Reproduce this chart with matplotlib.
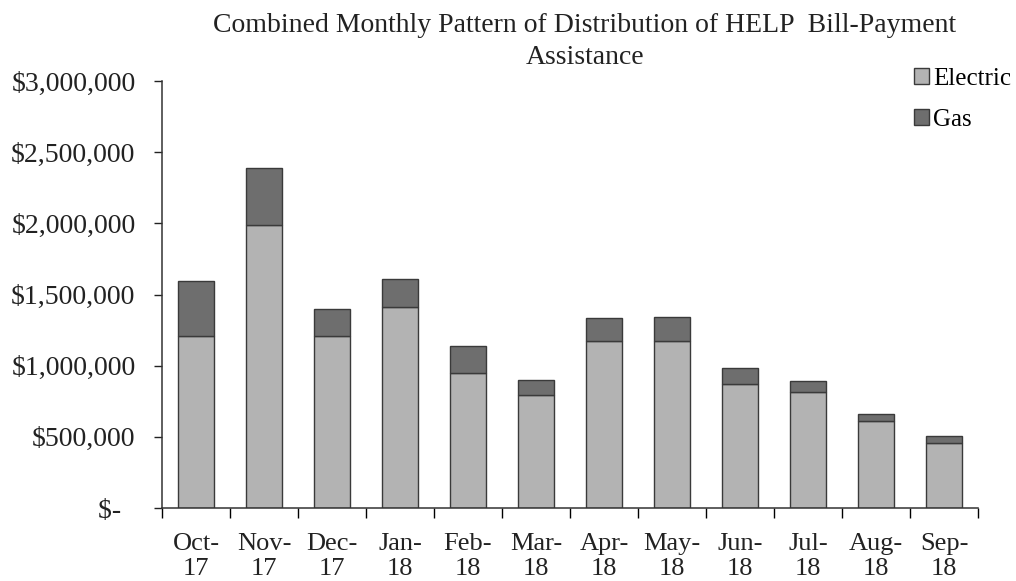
import numpy as np
import matplotlib.pyplot as plt
from matplotlib.ticker import FuncFormatter, FixedLocator

months = ['Oct-\n17', 'Nov-\n17', 'Dec-\n17', 'Jan-\n18', 'Feb-\n18', 'Mar-\n18',
          'Apr-\n18', 'May-\n18', 'Jun-\n18', 'Jul-\n18', 'Aug-\n18', 'Sep-\n18']
electric = [1208000, 1990000, 1205000, 1412000, 950000, 792000,
            1170000, 1175000, 872000, 818000, 612000, 460000]
total = [1592000, 2392000, 1400000, 1610000, 1135000, 897000,
         1338000, 1342000, 982000, 893000, 658000, 507000]
gas = [t - e for t, e in zip(total, electric)]

plt.rcParams['font.family'] = ['Liberation Serif', 'DejaVu Serif']

fig = plt.figure(figsize=(10.16, 5.81), dpi=100)
ax = fig.add_axes([162 / 1016, 1 - 508 / 581, 816 / 1016, 427 / 581])

x = np.arange(len(months))
ax.bar(x, electric, width=0.53, color='#b3b3b3', edgecolor='#3a3a3a',
       linewidth=1.0, label='Electric')
ax.bar(x, gas, width=0.53, bottom=electric, color='#6e6e6e',
       edgecolor='#3a3a3a', linewidth=1.0, label='Gas')

ax.set_xlim(-0.5, len(months) - 0.5)
ax.set_ylim(0, 3000000)
ax.set_yticks(np.arange(0, 3000001, 500000))
ax.yaxis.set_major_formatter(FuncFormatter(
    lambda v, p: '$-  ' if v == 0 else '${:,.0f}'.format(v)))
ax.tick_params(axis='y', labelsize=20, length=6, width=1, direction='out',
               pad=13, colors='#222222')
for lbl in ax.get_yticklabels():
    lbl.set_va('center_baseline')

ax.set_xticks(x)
ax.set_xticklabels(months, linespacing=1.2)
ax.tick_params(axis='x', which='major', length=0, labelsize=19, pad=18,
               colors='#222222')
ax.xaxis.set_minor_locator(FixedLocator(np.arange(-0.5, len(months), 1)))
ax.tick_params(axis='x', which='minor', length=7, width=1, direction='out')

for s in ['top', 'right']:
    ax.spines[s].set_visible(False)
for s in ['left', 'bottom']:
    ax.spines[s].set_color('#333333')
    ax.spines[s].set_linewidth(1.1)

fig.text(585 / 1016, 1 - 25 / 581,
         'Combined Monthly Pattern of Distribution of HELP  Bill-Payment',
         ha='center', va='center', fontsize=20, color='#222222')
fig.text(585 / 1016, 1 - 57 / 581, 'Assistance',
         ha='center', va='center', fontsize=20, color='#222222')

fig.legend(loc='upper left', bbox_to_anchor=(914 / 1016, 1 - 68 / 581),
           frameon=False, fontsize=18, handlelength=0.6, handleheight=0.6,
           handletextpad=0.15, labelspacing=0.75, borderaxespad=0,
           borderpad=0)

fig.savefig('out.png', dpi=100, facecolor='white')
